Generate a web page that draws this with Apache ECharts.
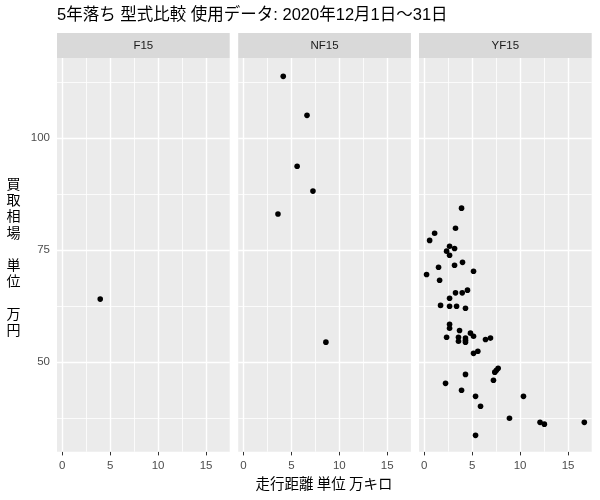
<!DOCTYPE html>
<html>
<head>
<meta charset="utf-8">
<script src="https://cdn.jsdelivr.net/npm/echarts@6/dist/echarts.min.js"></script>
<style>html,body{margin:0;padding:0;background:#fff}#c{width:600px;height:500px}</style>
</head>
<body>
<div id="c"></div>
<script>
// ---- data ----
const panelNames = ['F15', 'NF15', 'YF15'];
const f15X = [3.96];
const f15Y = [64.1];
const nf15X = [4.15, 6.63, 5.6, 7.25, 3.6, 8.6];
const nf15Y = [113.8, 105.1, 93.75, 88.2, 83.1, 54.5];
const yf15X = [3.89, 3.26, 1.08, 0.56, 2.64, 3.16, 2.33, 2.64, 3.99, 3.16, 1.49, 5.14, 0.24, 1.6,
  4.51, 3.26, 3.96, 2.64, 1.70, 2.64, 3.37, 4.30,
  2.64, 2.64, 3.68, 4.82, 5.14, 2.33, 3.57, 3.57, 4.30, 4.30, 4.30, 6.39, 6.91, 5.14, 5.59,
  4.30, 7.71, 7.53, 7.36, 7.22, 2.22, 3.89, 5.35, 10.35, 5.87, 8.89, 12.08, 12.53, 16.7, 5.35];
const yf15Y = [84.4, 79.9, 78.8, 77.2, 75.9, 75.4, 74.8, 73.9, 72.3, 71.65, 71.2, 70.3, 69.6, 68.3,
  66.1, 65.5, 65.5, 64.3, 62.7, 62.5, 62.5, 62.05,
  58.5, 57.6, 57.1, 56.5, 55.8, 55.6, 55.6, 54.7, 55.4, 54.9, 54.5, 55.1, 55.4, 52.0, 52.45,
  47.3, 48.66, 48.2, 47.8, 46.0, 45.3, 43.75, 42.4, 42.4, 40.2, 37.5, 36.6, 36.2, 36.6, 33.7];
const xTicks = [0, 5, 10, 15];
const xMinor = [2.5, 7.5, 12.5];
const yTicks = [50, 75, 100];
const yMinor = [37.5, 62.5, 87.5, 112.5];
const titleText = '5年落ち 型式比較 使用データ: 2020年12月1日～31日';
const xTitle = '走行距離 単位 万キロ';
const yTitle = '買\n取\n相\n場\n\n単\n位\n\n万\n円';

// ---- layout ----
const FONT = '"Liberation Sans", Arial, "Noto Sans CJK JP", sans-serif';
const lefts = [57, 238.2, 419];
const W = 172.7, TOP = 58, H = 393.7;
const XMIN = -0.55, XMAX = 17.47, YMIN = 30.05, YMAX = 117.9;
const seriesX = [f15X, nf15X, yf15X];
const seriesY = [f15Y, nf15Y, yf15Y];

const MAJOR = 1.4, MINOR = 0.8;
function gridLineData() {
  return [].concat(
    xMinor.map(v => ({xAxis: v, lineStyle: {width: MINOR}})),
    yMinor.map(v => ({yAxis: v, lineStyle: {width: MINOR}})),
    xTicks.map(v => ({xAxis: v, lineStyle: {width: MAJOR}})),
    yTicks.map(v => ({yAxis: v, lineStyle: {width: MAJOR}}))
  );
}

const grids = [], xAxes = [], yAxes = [], series = [], graphics = [];
panelNames.forEach((name, i) => {
  grids.push({left: lefts[i], top: TOP, width: W, height: H, show: true,
    backgroundColor: '#EBEBEB', borderWidth: 0, containLabel: false});
  xAxes.push({type: 'value', gridIndex: i, min: XMIN, max: XMAX, position: 'bottom',
    axisLine: {show: false},
    axisTick: {show: true, customValues: xTicks, length: 3.7, lineStyle: {color: '#333333', width: 1}},
    axisLabel: {show: true, customValues: xTicks, color: '#4D4D4D', fontSize: 11.5, fontFamily: FONT, margin: 8},
    splitLine: {show: false}});
  yAxes.push({type: 'value', gridIndex: i, min: YMIN, max: YMAX, position: 'left',
    axisLine: {show: false},
    axisTick: {show: i === 0, customValues: yTicks, length: 3.7, lineStyle: {color: '#333333', width: 1}},
    axisLabel: {show: i === 0, customValues: yTicks, color: '#4D4D4D', fontSize: 11.5, fontFamily: FONT, margin: 7},
    splitLine: {show: false}});
  // panel grid lines via the axes' own scales
  series.push({type: 'scatter', xAxisIndex: i, yAxisIndex: i, data: [], z: 1, silent: true,
    markLine: {z: 1, silent: true, animation: false, symbol: ['none', 'none'], label: {show: false},
      lineStyle: {color: '#FFFFFF', type: 'solid'}, emphasis: {disabled: true},
      data: gridLineData()}});
  series.push({type: 'scatter', xAxisIndex: i, yAxisIndex: i, z: 10,
    symbol: 'circle', symbolSize: 5.6, itemStyle: {color: '#000000', opacity: 1},
    silent: true, animation: false,
    data: seriesX[i].map((x, k) => [x, seriesY[i][k]])});
  graphics.push({type: 'rect', shape: {x: lefts[i], y: 33, width: W, height: 25},
    style: {fill: '#D9D9D9'}, silent: true});
  graphics.push({type: 'text', x: lefts[i] + W / 2, y: 46,
    style: {text: name, fill: '#1A1A1A', font: '11.5px ' + FONT, textAlign: 'center', textVerticalAlign: 'middle'},
    silent: true});
});

graphics.push({type: 'text', x: 13.5, y: 256.5,
  style: {text: yTitle, fill: '#000000', font: '14px "Noto Sans CJK JP", sans-serif', lineHeight: 16.2,
    textAlign: 'center', textVerticalAlign: 'middle'}, silent: true});
graphics.push({type: 'text', x: 324, y: 483.5,
  style: {text: xTitle, fill: '#000000', font: '14.5px "Noto Sans CJK JP", sans-serif',
    textAlign: 'center', textVerticalAlign: 'middle'}, silent: true});
graphics.push({type: 'text', x: 57, y: 15.5,
  style: {text: titleText, fill: '#000000', font: '16.5px ' + FONT,
    textAlign: 'left', textVerticalAlign: 'middle'}, silent: true});

const chart = echarts.init(document.getElementById('c'), null, {renderer: 'canvas'});
chart.setOption({
  animation: false,
  backgroundColor: '#FFFFFF',
  grid: grids, xAxis: xAxes, yAxis: yAxes, series: series, graphic: graphics
});
</script>
</body>
</html>
